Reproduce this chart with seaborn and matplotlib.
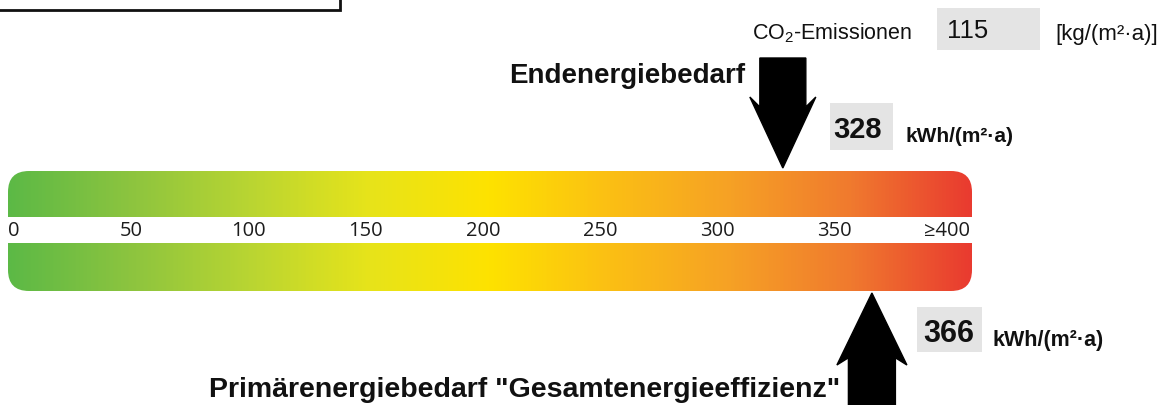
import numpy as np
import seaborn as sns
import matplotlib.pyplot as plt
from matplotlib.patches import FancyArrow, FancyBboxPatch, Rectangle

# values
tick_values = [0, 50, 100, 150, 200, 250, 300, 350]
tick_labels = ['0', '50', '100', '150', '200', '250', '300', '350']
end_label = '\u2265400'
endenergie = 328
primaerenergie = 366
co2 = 115
unit = 'kWh/(m²·a)'

# gradient stops along the scale (green -> yellow -> red)
grad_colors = ['#5cb946', '#8cc43f', '#b9d532', '#e7e41a', '#fee200',
               '#fbbf14', '#f6a125', '#f07a2e', '#e93b30']

sns.set_theme(style='white')
plt.rcParams['font.family'] = ['Liberation Sans', 'DejaVu Sans']
plt.rcParams['mathtext.fontset'] = 'custom'
plt.rcParams['mathtext.rm'] = 'Liberation Sans'

W, H = 1168, 405
fig = plt.figure(figsize=(W / 100, H / 100), dpi=100)

# pixel axes for the fixed decorations
bg = fig.add_axes([0, 0, 1, 1])
bg.set_xlim(0, W)
bg.set_ylim(H, 0)
bg.axis('off')

# scale axes: x in kWh/(m²a), y in pixels
px_per_unit = 117.2 / 50
x0_px = 14
ax = fig.add_axes([0, 0, 1, 1])
ax.set_xlim(-x0_px / px_per_unit, (W - x0_px) / px_per_unit)
ax.set_ylim(H, 0)
ax.axis('off')
ax.patch.set_alpha(0)

def u(px):
    return px / px_per_unit

bar_l, bar_r = u(8 - x0_px), u(972 - x0_px)
bar_top, bar_bot = 171, 291
cmap = sns.blend_palette(grad_colors, as_cmap=True)
clip = FancyBboxPatch((bar_l, bar_top), bar_r - bar_l, bar_bot - bar_top,
                      boxstyle='round,pad=0,rounding_size=%f' % u(21),
                      mutation_aspect=px_per_unit, fc='none', ec='none',
                      transform=ax.transData)
ax.add_patch(clip)
grad = np.linspace(0, 1, 512).reshape(1, -1)
im = ax.imshow(grad, cmap=cmap, aspect='auto',
               extent=(bar_l, bar_r, bar_bot, bar_top))
im.set_clip_path(clip)
ax.add_patch(Rectangle((bar_l - 1, 217), bar_r - bar_l + 2, 26, fc='white', ec='none', zorder=2))

tick_font = ['Open Sans', 'DejaVu Sans']
for v, t in zip(tick_values, tick_labels):
    ax.text(v, 231, t, ha='center', va='center', fontsize=14.5,
            family=tick_font, color='#1c1c1c', zorder=3)
ax.text(bar_r - u(2), 231, end_label, ha='right', va='center', fontsize=14.5,
        family=tick_font, color='#1c1c1c', zorder=3)

# Endenergie arrow (from top)
ax.add_patch(FancyArrow(endenergie, 58, 0, bar_top - 3 - 58, width=u(46),
                        head_width=u(66), head_length=71, overhang=0.14,
                        length_includes_head=True, fc='black', ec='black', zorder=4))
ax.add_patch(Rectangle((endenergie + u(47), 103), u(63), 47, fc='#e4e4e4', ec='none'))
ax.text(endenergie + u(50), 138, str(endenergie), ha='left', va='baseline',
        fontsize=21, fontweight='bold', color='#111111')
ax.text(endenergie + u(123), 142, unit, ha='left', va='baseline',
        fontsize=15, fontweight='bold', color='#111111')
bg.text(745, 83, 'Endenergiebedarf', ha='right', va='baseline',
        fontsize=20, fontweight='bold', color='#111111')

# Primaerenergie arrow (from bottom)
ax.add_patch(FancyArrow(primaerenergie, 410, 0, bar_bot + 2 - 410, width=u(47),
                        head_width=u(70), head_length=72, overhang=0.1,
                        length_includes_head=True, fc='black', ec='black', zorder=4))
ax.add_patch(Rectangle((primaerenergie + u(45), 307), u(65), 45, fc='#e4e4e4', ec='none'))
ax.text(primaerenergie + u(51), 342, str(primaerenergie), ha='left', va='baseline',
        fontsize=22, fontweight='bold', color='#111111')
ax.text(primaerenergie + u(121), 346, unit, ha='left', va='baseline',
        fontsize=15.5, fontweight='bold', color='#111111')
bg.text(209, 397, 'Primärenergiebedarf "Gesamtenergieeffizienz"', ha='left',
        va='baseline', fontsize=20.5, fontweight='bold', color='#111111')

# CO2 line
bg.text(752, 39, 'CO$_\\mathregular{2}$-Emissionen', ha='left', va='baseline',
        fontsize=15.5, color='#111111')
bg.add_patch(Rectangle((937, 8), 103, 42, fc='#e4e4e4', ec='none'))
bg.text(947, 38, str(co2), ha='left', va='baseline', fontsize=18.5, color='#111111')
bg.text(1055, 40, '[kg/(m²·a)]', ha='left', va='baseline', fontsize=16, color='#111111')

# frame corner of box above
bg.add_patch(Rectangle((-5, -20), 345, 30, fc='white', ec='#111111', lw=2))

fig.savefig('out.png', dpi=100)
